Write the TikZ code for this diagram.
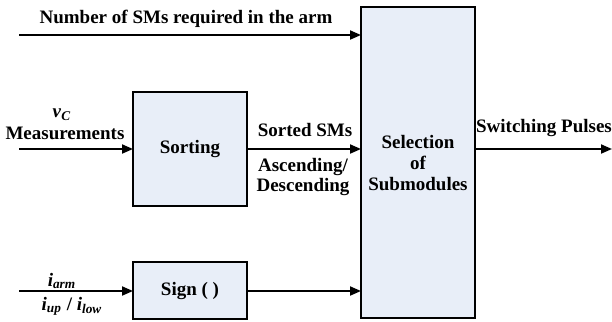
\documentclass[tikz,border=0pt]{standalone}
\usepackage{fontspec}
\setmainfont{Liberation Serif}
\usetikzlibrary{arrows.meta}
\definecolor{boxfill}{RGB}{232,238,248}
\begin{document}
\begin{tikzpicture}[x=0.5pt,y=-0.5pt,
  blk/.style={draw=black,line width=1pt,fill=boxfill,inner sep=0pt},
  conn/.style={line width=1pt,-{Triangle[length=5.5pt,width=4.5pt]}},
  lbl/.style={font=\fontsize{9.5}{11}\selectfont\bfseries,inner sep=0pt,align=center}]
\useasboundingbox (0,0) rectangle (612,322);
% boxes
\path[blk] (361,7) rectangle (475,318);
\node[lbl] (sel) at (418,163) {Selection\\[-0.5pt] of\\[-0.5pt] Submodules};
\path[blk] (133,92) rectangle (247,206);
\node[lbl] (sort) at (190,149) {Sorting};
\path[blk] (133,262) rectangle (247,319);
\node[lbl] (sign) at (190,291) {Sign ( )};
% coordinates
\coordinate (in1) at (19,35);
\coordinate (e1) at (361,35);
\coordinate (in2) at (19,149);
\coordinate (s2) at (133,149);
\coordinate (o2) at (247,149);
\coordinate (e2) at (361,149);
\coordinate (in3) at (19,291);
\coordinate (s3) at (133,291);
\coordinate (o3) at (247,291);
\coordinate (e3) at (361,291);
\coordinate (o4) at (475,149);
\coordinate (out) at (612,149);
% connectors
\draw[conn] (in1) -- (e1);
\draw[conn] (in2) -- (s2);
\draw[conn] (o2) -- (e2);
\draw[conn] (in3) -- (s3);
\draw[conn] (o3) -- (e3);
\draw[conn] (o4) -- (out);
% labels
\node[lbl] (t1) at (186,19) {Number of SMs required in the arm};
\node[lbl] (t2) at (62,115) {\textit{v}\textsubscript{\textit{C}}};
\node[lbl] (t3) at (65,133) {Measurements};
\node[lbl] (t4) at (305,130) {Sorted SMs};
\node[lbl] (t5) at (303,177) {Ascending/\\[-1pt]Descending};
\node[lbl] (t6) at (544,128) {Switching Pulses};
\node[lbl] (t7) at (62,281) {\textit{i}\textsubscript{\textit{arm}}};
\node[lbl] (t8) at (72,306) {\textit{i}\textsubscript{\textit{up}} / \textit{i}\textsubscript{\textit{low}}};
\end{tikzpicture}
\end{document}
